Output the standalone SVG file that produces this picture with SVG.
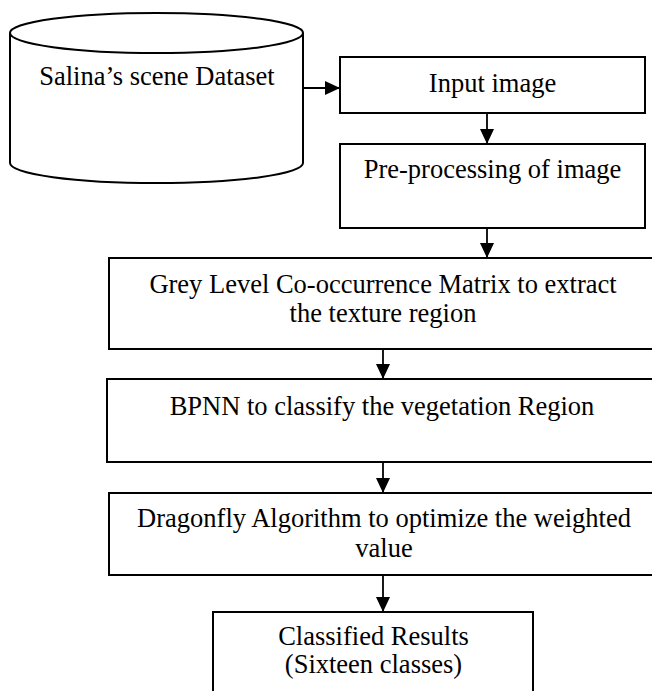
<svg xmlns="http://www.w3.org/2000/svg" width="652" height="691" viewBox="0 0 652 691">
<style>
.shape{fill:#fff;stroke:#000;stroke-width:2}
.lbl{font-family:"Liberation Serif","Times New Roman",serif;font-size:26.5px;fill:#000;text-anchor:middle}
.conn{stroke:#000;stroke-width:1.8;fill:none}
</style>
<defs>
<marker id="arr" markerUnits="userSpaceOnUse" markerWidth="16" markerHeight="14" refX="15" refY="7" orient="auto">
<path d="M0,0 L15,7 L0,14 z" fill="#000"/>
</marker>
</defs>
<rect width="652" height="691" fill="#fff"/>
<g id="dataset">
<path class="shape" d="M10,33 L10,163 A146.5,20 0 0 0 303,163 L303,33"/>
<ellipse class="shape" cx="156.5" cy="33" rx="146.5" ry="20"/>
<text class="lbl" x="157" y="85">Salina’s scene Dataset</text>
</g>
<g id="input">
<rect class="shape" x="340" y="57" width="305" height="56"/>
<text class="lbl" x="492.5" y="92">Input image</text>
</g>
<g id="preprocess">
<rect class="shape" x="340" y="144" width="305" height="84"/>
<text class="lbl" x="492.5" y="178">Pre-processing of image</text>
</g>
<g id="glcm">
<rect class="shape" x="109" y="258" width="560" height="91"/>
<text class="lbl" x="383" y="293">Grey Level Co-occurrence Matrix to extract</text>
<text class="lbl" x="383" y="322">the texture region</text>
</g>
<g id="bpnn">
<rect class="shape" x="107" y="379" width="560" height="83"/>
<text class="lbl" x="382" y="415">BPNN to classify the vegetation Region</text>
</g>
<g id="dragonfly">
<rect class="shape" x="109" y="493" width="560" height="82"/>
<text class="lbl" x="384" y="527">Dragonfly Algorithm to optimize the weighted</text>
<text class="lbl" x="384" y="557">value</text>
</g>
<g id="results">
<rect class="shape" x="213" y="612" width="320" height="90"/>
<text class="lbl" x="373.5" y="645">Classified Results</text>
<text class="lbl" x="373.5" y="673">(Sixteen classes)</text>
</g>
<g id="connectors">
<line class="conn" x1="303" y1="88" x2="340" y2="88" marker-end="url(#arr)"/>
<line class="conn" x1="487" y1="113" x2="487" y2="144" marker-end="url(#arr)"/>
<line class="conn" x1="487" y1="228" x2="487" y2="258" marker-end="url(#arr)"/>
<line class="conn" x1="383" y1="349" x2="383" y2="379" marker-end="url(#arr)"/>
<line class="conn" x1="383" y1="462" x2="383" y2="493" marker-end="url(#arr)"/>
<line class="conn" x1="383" y1="575" x2="383" y2="612" marker-end="url(#arr)"/>
</g>
</svg>
